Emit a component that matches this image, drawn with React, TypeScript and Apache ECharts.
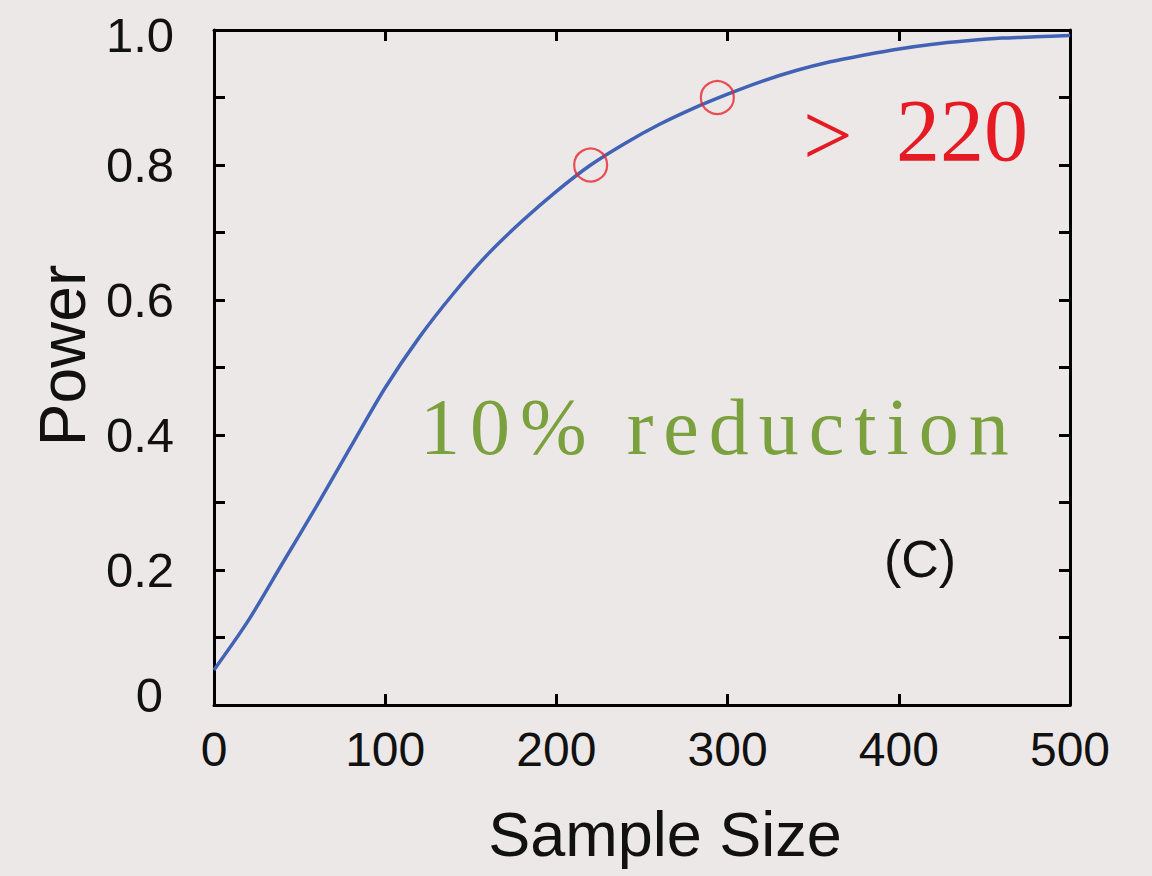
import React, { useEffect, useRef } from "react";
import * as echarts from "echarts";

// Sample size (x) and statistical power (y)
const sampleSizes = [0, 20, 40, 60, 80, 100, 120, 140, 160, 180, 200, 220, 240, 260, 280, 300, 320, 340, 360, 380, 400, 420, 440, 460, 480, 500];
const powerValues = [0.052, 0.125, 0.21, 0.295, 0.383, 0.47, 0.545, 0.61, 0.668, 0.717, 0.761, 0.8, 0.832, 0.86, 0.884, 0.905, 0.924, 0.94, 0.953, 0.963, 0.972, 0.979, 0.984, 0.988, 0.99, 0.992];

// Highlighted points (red circles)
const markedSizes = [220, 294];
const markedPowers = [0.8, 0.9];

// Axis ranges
const xTicks = [0, 100, 200, 300, 400, 500];
const yTicks = [0, 0.2, 0.4, 0.6, 0.8, 1.0];

const SANS = "'Liberation Sans', Arial, Helvetica, sans-serif";
const SERIF = "'Liberation Serif', 'Times New Roman', serif";
const BG = "#ECE8E7";

export default function App() {
  const ref = useRef<HTMLDivElement>(null);

  useEffect(() => {
    if (!ref.current) return;
    const chart = echarts.init(ref.current, undefined, { renderer: "svg" });

    const frameLine = () => ({ show: true, onZero: false, lineStyle: { color: "#000", width: 3 } });
    const tick = () => ({ show: true, inside: true, length: 11, lineStyle: { color: "#000", width: 3 } });
    const minor = () => ({ show: true, splitNumber: 2, length: 11, lineStyle: { color: "#000", width: 3 } });

    const curve = sampleSizes.map((n, i) => [n, powerValues[i]]);
    const marks = markedSizes.map((n, i) => [n, markedPowers[i]]);

    chart.setOption({
      animation: false,
      backgroundColor: BG,
      grid: { left: 214, right: 82, top: 30, bottom: 171, containLabel: false },
      xAxis: [
        {
          type: "value",
          position: "bottom",
          min: xTicks[0],
          max: xTicks[xTicks.length - 1],
          interval: 100,
          axisLine: frameLine(),
          axisTick: tick(),
          splitLine: { show: false },
          axisLabel: { fontSize: 48, fontFamily: SANS, color: "#111", margin: 20 },
          name: "Sample Size",
          nameLocation: "middle",
          nameGap: 97,
          nameTextStyle: { fontSize: 63, fontFamily: SANS, color: "#111", padding: [0, 0, 0, 46] },
        },
        {
          type: "value",
          position: "top",
          min: xTicks[0],
          max: xTicks[xTicks.length - 1],
          interval: 100,
          axisLine: frameLine(),
          axisTick: tick(),
          splitLine: { show: false },
          axisLabel: { show: false },
        },
      ],
      yAxis: [
        {
          type: "value",
          position: "left",
          min: yTicks[0],
          max: yTicks[yTicks.length - 1],
          interval: 0.2,
          axisLine: frameLine(),
          axisTick: tick(),
          minorTick: minor(),
          splitLine: { show: false },
          minorSplitLine: { show: false },
          axisLabel: {
            fontSize: 49,
            fontFamily: SANS,
            color: "#111",
            margin: 40,
            formatter: (v: number) =>
              v === 0 ? "{z|0}" : v === 1 ? "{t|1.0}" : v.toFixed(1),
            rich: {
              z: { fontSize: 49, fontFamily: SANS, color: "#111", padding: [0, 11, 20, 0] },
              t: { fontSize: 49, fontFamily: SANS, color: "#111", padding: [10, 0, 0, 0] },
            },
          },
          name: "Power",
          nameLocation: "middle",
          nameGap: 119,
          nameTextStyle: { fontSize: 64, fontFamily: SANS, color: "#111", padding: [0, 0, 0, 24] },
        },
        {
          type: "value",
          position: "right",
          min: yTicks[0],
          max: yTicks[yTicks.length - 1],
          interval: 0.2,
          axisLine: frameLine(),
          axisTick: tick(),
          minorTick: minor(),
          splitLine: { show: false },
          axisLabel: { show: false },
        },
      ],
      series: [
        {
          type: "line",
          data: curve,
          smooth: 0.3,
          showSymbol: false,
          symbol: "none",
          lineStyle: { color: "#4262B6", width: 3.5 },
          z: 3,
        },
        {
          type: "scatter",
          data: marks,
          symbol: "circle",
          symbolSize: 33,
          itemStyle: { color: "rgba(0,0,0,0)", borderColor: "#E8262E", borderWidth: 2.2 },
          z: 4,
        },
      ],
      graphic: [
        {
          type: "text",
          left: 803,
          top: 91,
          style: { text: ">", font: `88px ${SERIF}`, fill: "#E51A22" },
        },
        {
          type: "text",
          left: 896,
          top: 86,
          style: { text: "220", font: `88px ${SERIF}`, fill: "#E51A22" },
        },
        {
          type: "text",
          left: 420,
          top: 387,
          style: {
            text: "10% reduction",
            font: `80px 'Liberation Serif', 'Nimbus Roman', serif`,
            fill: "#7BA03E",
          },
        },
        {
          type: "text",
          left: 884,
          top: 533,
          style: { text: "(C)", font: `52px ${SANS}`, fill: "#111" },
        },
      ],
    });

    return () => chart.dispose();
  }, []);

  return (
    <>
      <style>{`
        text[style*="Nimbus Roman"], text[fill="#7BA03E" i], text[fill="#7ba03e" i] { letter-spacing: 10px; }
      `}</style>
      <div
        ref={ref}
        style={{ position: "fixed", left: 0, top: 0, width: 1152, height: 876, background: BG }}
      />
    </>
  );
}
